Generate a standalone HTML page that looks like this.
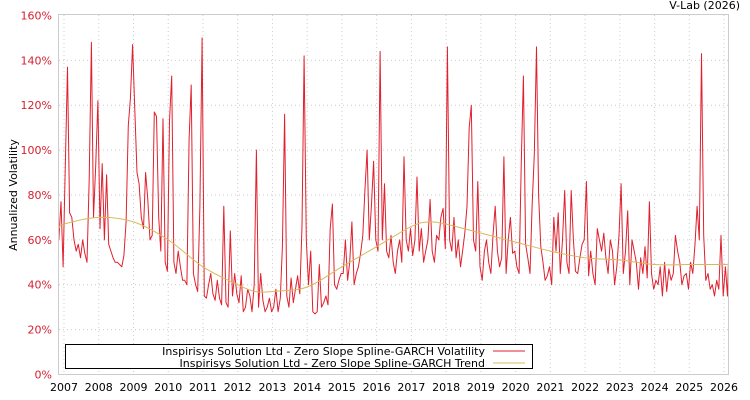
<!DOCTYPE html>
<html><head><meta charset="utf-8"><style>
body{margin:0;background:#fff;}
svg{display:block;font-family:"DejaVu Sans","Liberation Sans",sans-serif;}
</style></head><body>
<svg id="chart" width="750" height="400" viewBox="0 0 750 400">
<defs><clipPath id="plotclip"><rect x="58" y="14" width="670" height="361"/></clipPath></defs>
<rect x="0" y="0" width="750" height="400" fill="#fff"/>
<g id="grid"></g>
<g id="series" clip-path="url(#plotclip)"></g>
<rect x="58.5" y="14.5" width="670" height="360" fill="none" stroke="#ccc"/>
<g id="axes"></g>
<text transform="translate(17,195) rotate(-90)" text-anchor="middle" font-size="11" fill="#000">Annualized Volatility</text>
<text x="740" y="9" text-anchor="end" font-size="11" fill="#000">V-Lab (2026)</text>
<g>
<rect x="65.5" y="344.5" width="467" height="24" fill="#fff" stroke="#000"/>
<text x="485" y="355" text-anchor="end" font-size="11">Inspirisys Solution Ltd - Zero Slope Spline-GARCH Volatility</text>
<line x1="493" y1="351" x2="525" y2="351" stroke="#e0202e"/>
<text x="485" y="367" text-anchor="end" font-size="11">Inspirisys Solution Ltd - Zero Slope Spline-GARCH Trend</text>
<line x1="493" y1="363" x2="525" y2="363" stroke="#d9b85c"/>
</g>
</svg>
<script>
const yTicks=[0,20,40,60,80,100,120,140,160];
const xYears=[2007,2008,2009,2010,2011,2012,2013,2014,2015,2016,2017,2018,2019,2020,2021,2022,2023,2024,2025,2026];
const volStart=2006.85;
const volStep=1/16;
const volValues=[60,77,48,
93,137,72,70,60,55,58,52,60,54,50,87,148,70,93,122,
65,94,60,89,58,55,52,50,50,49,48,53,68,111,123,147,
118,90,85,70,65,90,78,60,62,117,115,70,55,114,50,46,
113,133,50,45,55,48,42,42,40,105,129,45,40,37,75,150,
35,34,40,45,36,33,42,34,31,75,32,30,64,35,45,36,
32,44,28,30,38,35,28,40,100,30,45,33,28,30,34,28,
30,38,28,34,57,116,35,30,43,32,38,44,36,66,142,60,
40,55,28,27,28,49,30,32,35,31,65,76,40,38,42,45,
45,60,42,50,68,40,45,48,54,62,82,100,60,75,95,60,
55,144,60,85,55,52,62,50,45,55,60,50,97,60,55,65,
53,60,88,55,65,50,55,60,78,55,50,62,60,70,74,56,
146,60,55,70,52,60,48,55,63,75,110,120,60,55,86,48,
42,55,60,50,45,62,75,55,48,52,97,45,60,70,54,55,
48,45,95,133,58,52,45,75,98,146,80,57,50,42,44,48,
40,70,55,72,45,60,82,50,45,82,60,46,45,52,58,60,
86,44,55,45,40,65,60,55,63,52,45,60,55,40,48,62,
85,45,55,73,40,60,55,50,38,52,45,57,43,77,45,38,
42,40,48,35,50,37,47,42,45,62,55,50,40,44,45,38,
50,45,58,75,60,143,62,42,45,38,40,35,42,38,62,35,
48,35,70,55];
const trendYears=[2006.85,2007,2008,2009,2010,2011,2012,2012.5,2013,2014,2015,2016,2017,2017.5,2018,2019,2020,2021,2022,2023,2024,2025,2026.1];
const trendValues=[65,67,70,68,60,48,40,37,37,39,48,57,66,68,67,63,59,55,52,51,49,49,49];

const NS='http://www.w3.org/2000/svg';
const X=t=>64+(t-2007)*34.74;
const Y=v=>374.5-v*2.244;
function mk(tag,attrs,parent){const e=document.createElementNS(NS,tag);for(const k in attrs)e.setAttribute(k,attrs[k]);parent.appendChild(e);return e;}
const grid=document.getElementById('grid'),axes=document.getElementById('axes'),series=document.getElementById('series');
yTicks.forEach(v=>{
  if(v>0&&v<160){const l=mk('line',{x1:59,x2:728,y1:Y(v),y2:Y(v),stroke:'#ccc','stroke-dasharray':'1,3'},grid);
  
  }
  const t=mk('text',{x:52,y:Y(v)+4,'text-anchor':'end','font-size':11,fill:'#d62030'},axes);
  
  
  t.textContent=v+'%';
});
xYears.forEach(yr=>{
  const l=mk('line',{x1:X(yr),x2:X(yr),y1:15,y2:374,stroke:'#ccc','stroke-dasharray':'1,3'},grid);
  
  
  const t=mk('text',{x:X(yr),y:391,'text-anchor':'middle','font-size':11,fill:'#000'},axes);
  
  
  t.textContent=yr;
});
let d='';
volValues.forEach((v,i)=>{d+=(i?'L':'M')+X(volStart+i*volStep).toFixed(1)+','+Y(v).toFixed(1);});
const vp=mk('path',{d:d,fill:'none',stroke:'#e0202e','stroke-width':1,'stroke-linejoin':'round'},series);


const pts=trendYears.map((t,i)=>[X(t),Y(trendValues[i])]);
let td='M'+pts[0][0]+','+pts[0][1];
for(let i=0;i<pts.length-1;i++){
  const p0=pts[Math.max(0,i-1)],p1=pts[i],p2=pts[i+1],p3=pts[Math.min(pts.length-1,i+2)];
  const c1=[p1[0]+(p2[0]-p0[0])/6,p1[1]+(p2[1]-p0[1])/6],c2=[p2[0]-(p3[0]-p1[0])/6,p2[1]-(p3[1]-p1[1])/6];
  td+=`C${c1[0]},${c1[1]} ${c2[0]},${c2[1]} ${p2[0]},${p2[1]}`;
}
const tp=mk('path',{d:td,fill:'none',stroke:'#d9b85c','stroke-width':1},series);


</script>
</body></html>
